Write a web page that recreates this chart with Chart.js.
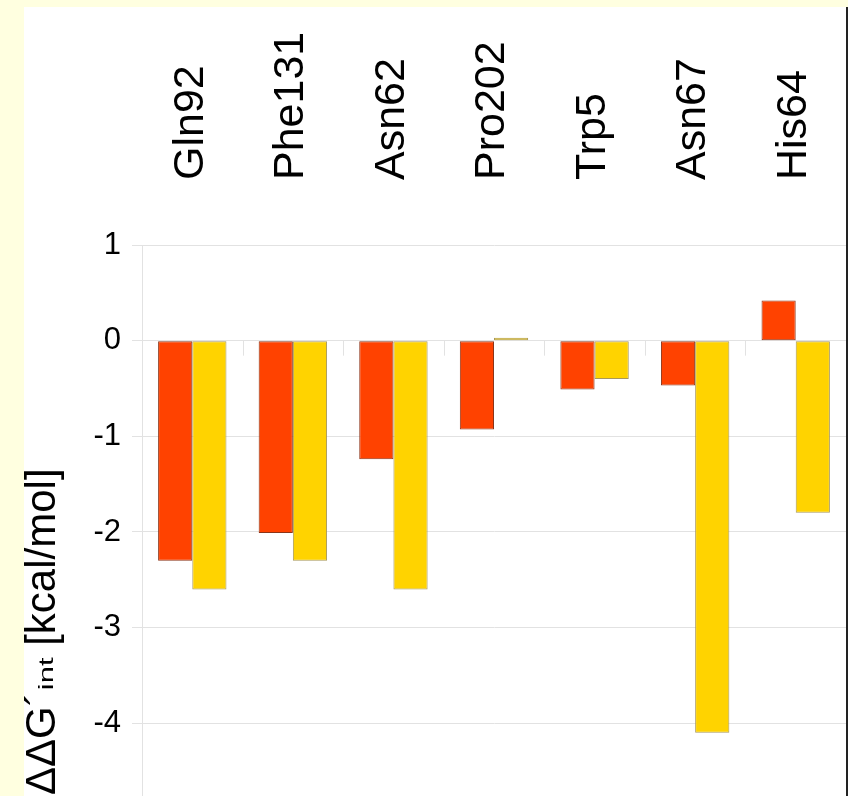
<!DOCTYPE html>
<html>
<head>
<meta charset="utf-8">
<script src="https://cdn.jsdelivr.net/npm/chart.js@4"></script>
<style>
  body { margin: 0; background: #ffffe0; width: 848px; height: 796px; overflow: hidden; }
  #frame { position: absolute; left: 24px; top: 7px; width: 822px; height: 789px; background: #fff; border-right: 2px solid #222; }
  #myChart { display: block; }
</style>
</head>
<body>
<div id="frame"><canvas id="myChart" width="822" height="789"></canvas></div>
<script>
const residues = ["Gln92", "Phe131", "Asn62", "Pro202", "Trp5", "Asn67", "His64"];
const seriesA = [-2.30, -2.01, -1.24, -0.93, -0.51, -0.47, 0.42];
const seriesB = [-2.60, -2.30, -2.60, 0.03, -0.40, -4.10, -1.80];
const yTicks = [-4, -3, -2, -1, 0, 1];

const FONT = "'Liberation Sans', Arial, sans-serif";

// little tick marks on the zero line between categories + y title
const extras = {
  id: "extras",
  afterDatasetsDraw(chart) {
    const ctx = chart.ctx;
    const x = chart.scales.x;
    const y = chart.scales.y;
    const y0 = y.getPixelForValue(0);
    ctx.save();
    ctx.strokeStyle = "#e2e2e2";
    ctx.lineWidth = 1;
    for (let i = 1; i < residues.length; i++) {
      const px = Math.round((x.getPixelForValue(i - 1) + x.getPixelForValue(i)) / 2) + 0.5;
      ctx.beginPath();
      ctx.moveTo(px, y0);
      ctx.lineTo(px, y0 + 15);
      ctx.stroke();
    }
    ctx.restore();

    // axis title with subscript
    ctx.save();
    ctx.fillStyle = "#000";
    ctx.textBaseline = "alphabetic";
    ctx.translate(31, 788);
    ctx.rotate(-Math.PI / 2);
    ctx.font = "42px " + FONT;
    ctx.fillText("ΔΔG´", 0, 0);
    let w = ctx.measureText("ΔΔG´").width;
    ctx.save();
    ctx.translate(w + 2, -2);
    ctx.scale(1.55, 1);
    ctx.font = "20px " + FONT;
    ctx.fillText("int", 0, 0);
    const wi = ctx.measureText("int").width * 1.55;
    ctx.restore();
    ctx.font = "42px " + FONT;
    ctx.fillText(" [kcal/mol]", w + 2 + wi, 0);
    ctx.restore();
  }
};

new Chart(document.getElementById("myChart").getContext("2d"), {
  type: "bar",
  data: {
    labels: residues,
    datasets: [
      {
        data: seriesA,
        backgroundColor: "#ff4200",
        borderColor: "#8c3418",
        borderWidth: 1,
        borderSkipped: false,
        barPercentage: 1,
        categoryPercentage: 0.68
      },
      {
        data: seriesB,
        backgroundColor: "#ffd300",
        borderColor: "#a8985a",
        borderWidth: 1,
        borderSkipped: false,
        barPercentage: 1,
        categoryPercentage: 0.68
      }
    ]
  },
  options: {
    responsive: false,
    animation: false,
    layout: { padding: 0 },
    plugins: { legend: { display: false }, tooltip: { enabled: false } },
    scales: {
      x: {
        position: "top",
        offset: true,
        grid: { display: false },
        border: { display: false },
        ticks: {
          color: "#000",
          font: { family: FONT, size: 43 },
          minRotation: 90,
          maxRotation: 90,
          padding: 57,
          labelOffset: 50
        },
        afterFit(scale) {
          scale.height = 238;
          scale.paddingLeft = 0;
          scale.paddingRight = 0;
        }
      },
      y: {
        min: -4.76,
        max: 1,
        afterBuildTicks(axis) { axis.ticks = yTicks.map(v => ({ value: v })); },
        grid: { color: "#e2e2e2", tickLength: 10, lineWidth: 1 },
        border: { color: "#e2e2e2" },
        ticks: {
          color: "#000",
          font: { family: FONT, size: 31 },
          padding: 11
        },
        afterFit(scale) {
          scale.width = 118;
          scale.paddingTop = 0;
          scale.paddingBottom = 0;
        }
      }
    }
  },
  plugins: [extras]
});
</script>
</body>
</html>
